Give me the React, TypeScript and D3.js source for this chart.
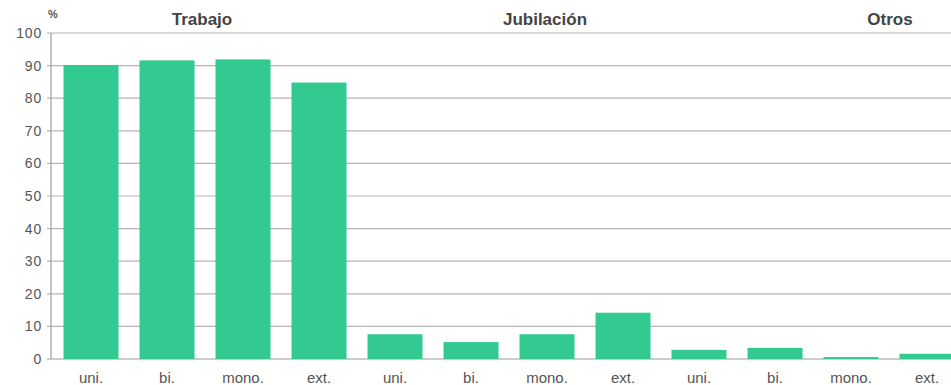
import React from "react";
import * as d3 from "d3";

const groups = ["Trabajo", "Jubilación", "Otros"];
const subcats = ["uni.", "bi.", "mono.", "ext."];
const trabajo = [90.2, 91.6, 91.9, 84.8];
const jubilacion = [7.6, 5.2, 7.6, 14.2];
const otros = [2.8, 3.4, 0.6, 1.6];
const yTicks = [0, 10, 20, 30, 40, 50, 60, 70, 80, 90, 100];
const groupTitleX = [202, 545, 890];

const W = 951;
const H = 385;

export default function App() {
  const series = [trabajo, jubilacion, otros];
  const rows = groups.flatMap((g, gi) =>
    subcats.map((s, si) => ({ id: `${g}-${s}`, label: s, value: series[gi][si] }))
  );
  const x = d3
    .scaleBand<string>()
    .domain(rows.map((r) => r.id))
    .range([53, 53 + 76 * 12])
    .paddingInner(0.276)
    .paddingOuter(0.138);
  const y = d3.scaleLinear().domain([0, 100]).range([359, 33]);
  const axisX = 51;
  const font = "'Liberation Sans', Arial, sans-serif";

  return (
    <svg
      width={W}
      height={H}
      style={{ position: "fixed", left: 0, top: 0, background: "#fff" }}
      fontFamily={font}
    >
      {yTicks.map((t) => (
        <g key={t}>
          <line x1={axisX - 4} x2={W} y1={y(t)} y2={y(t)} stroke={t === 0 ? "#a09a9a" : "#b5b5b5"} strokeWidth={1.2} />
          <text x={axisX - 9} y={y(t)} dy="0.36em" textAnchor="end" fontSize={14} letterSpacing={0.8} fill="#555">
            {t}
          </text>
        </g>
      ))}
      <line x1={axisX} x2={axisX} y1={y(100)} y2={y(0)} stroke="#a09a9a" strokeWidth={1.2} />
      {rows.map((r) => (
        <rect
          key={r.id}
          x={x(r.id)}
          width={x.bandwidth()}
          y={y(r.value)}
          height={y(0) - y(r.value)}
          fill="#33ca92"
        />
      ))}
      {rows.map((r) => (
        <text
          key={r.id + "-l"}
          x={(x(r.id) as number) + x.bandwidth() / 2}
          y={383}
          textAnchor="middle"
          fontSize={15}
          fill="#555"
        >
          {r.label}
        </text>
      ))}
      {groups.map((g, i) => (
        <text key={g} x={groupTitleX[i]} y={25} textAnchor="middle" fontSize={17} fontWeight="bold" fill="#444">
          {g}
        </text>
      ))}
      <text x={48} y={18} fontSize={11} fontWeight="bold" fill="#555">
        %
      </text>
    </svg>
  );
}
